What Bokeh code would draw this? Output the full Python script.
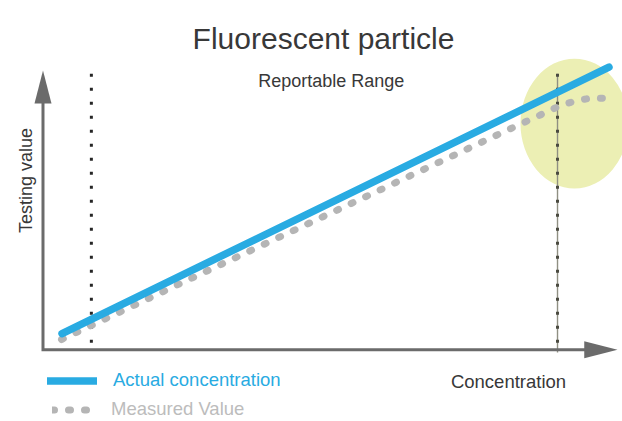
from math import pi
from bokeh.plotting import figure
from bokeh.models import Range1d, Label, Legend, LegendItem
from bokeh.embed import file_html
from bokeh.resources import INLINE

# ---------------- data ----------------
actual_x = [0.37, 11.0]
actual_y = [0.6, 10.47]
measured_x = [0.36, 2.63, 5.78, 8.93, 9.77, 10.06, 10.37, 10.68, 10.99]
measured_y = [0.38, 2.42, 5.23, 8.05, 8.79, 9.05, 9.23, 9.33, 9.31]
range_limits = [0.94, 10.0]          # lower / upper limit of the reportable range
limit_top, limit_bottom = 10.22, -0.1
saturation_x, saturation_y = [10.33], [8.38]
saturation_w, saturation_h = [2.10], [4.81]

title_text = "Fluorescent particle"
range_text = "Reportable Range"
x_label = "Concentration"
y_label = "Testing value"
series_names = ["Actual concentration", "Measured Value"]

# ---------------- style ----------------
FONT = "Liberation Sans"
BLUE = "#29abe2"
GRAY = "#b5b5b5"
GRAY_TXT = "#bcbcbc"
AXIS = "#6b6b6b"
TXT = "#383838"
YELLOW = "#ecefb4"

W, H = 622, 421
p = figure(width=W, height=H, output_backend="svg", toolbar_location=None,
           x_axis_type=None, y_axis_type=None,
           x_range=Range1d(-0.826, 11.263), y_range=Range1d(-2.656, 12.937),
           min_border=0, min_border_left=0, min_border_right=0,
           min_border_top=0, min_border_bottom=0)
p.outline_line_color = None
p.background_fill_color = "white"
p.border_fill_color = "white"

# saturation zone
p.ellipse(x=saturation_x, y=saturation_y, width=saturation_w, height=saturation_h,
          fill_color=YELLOW, line_color=None)

# reportable-range limits
lo, hi = range_limits
p.line([hi, hi], [limit_top, limit_bottom], line_color="#8f8f82", line_width=1.4)
p.line([lo, lo], [limit_top, limit_bottom], line_color="#262626", line_width=3,
       line_dash="3 11")
p.line([hi, hi], [limit_top, limit_bottom], line_color="#4a4a40", line_width=3,
       line_dash="3 11")

# axes with arrows
p.line([0, 0, 10.55], [9.15, 0, 0], line_color=AXIS, line_width=3, line_join="miter")
p.patch([-0.165, 0, 0.165], [9.12, 10.34, 9.12], fill_color=AXIS, line_color=None)
p.patch([10.52, 11.166, 10.52], [0.315, 0, -0.315], fill_color=AXIS, line_color=None)

# series
r_meas = p.line(measured_x, measured_y, line_color=GRAY, line_width=7,
                line_dash="2 14", line_cap="round", line_join="round")
r_act = p.line(actual_x, actual_y, line_color=BLUE, line_width=7.5, line_cap="round")

# texts
p.add_layout(Label(x=323, y=383, x_units="screen", y_units="screen", text=title_text,
                   text_font=FONT, text_font_size="30px", text_color=TXT,
                   text_align="center", text_baseline="alphabetic"))
p.add_layout(Label(x=330.7, y=340.3, x_units="screen", y_units="screen", text=range_text,
                   text_font=FONT, text_font_size="18px", text_color=TXT,
                   text_align="center", text_baseline="alphabetic"))
p.add_layout(Label(x=508, y=40, x_units="screen", y_units="screen", text=x_label,
                   text_font=FONT, text_font_size="18.5px", text_color=TXT,
                   text_align="center", text_baseline="alphabetic"))
p.add_layout(Label(x=25, y=241, x_units="screen", y_units="screen", text=y_label,
                   angle=pi / 2, text_font=FONT, text_font_size="18px", text_color=TXT,
                   text_align="center", text_baseline="alphabetic"))

# legends
common = dict(orientation="vertical", padding=0, margin=0, spacing=0,
              border_line_color=None, background_fill_alpha=0,
              glyph_height=21, label_height=21,
              label_text_font=FONT, label_text_font_size="18.5px")
leg1 = Legend(items=[LegendItem(label=series_names[0], renderers=[r_act])],
              location=(47, 30), glyph_width=50, label_standoff=16,
              label_text_color=BLUE, **common)
leg2 = Legend(items=[LegendItem(label=series_names[1], renderers=[r_meas])],
              location=(52, 1), glyph_width=38, label_standoff=21,
              label_text_color=GRAY_TXT, **common)
p.add_layout(leg1)
p.add_layout(leg2)

open("out.html", "w").write(file_html(p, INLINE))
